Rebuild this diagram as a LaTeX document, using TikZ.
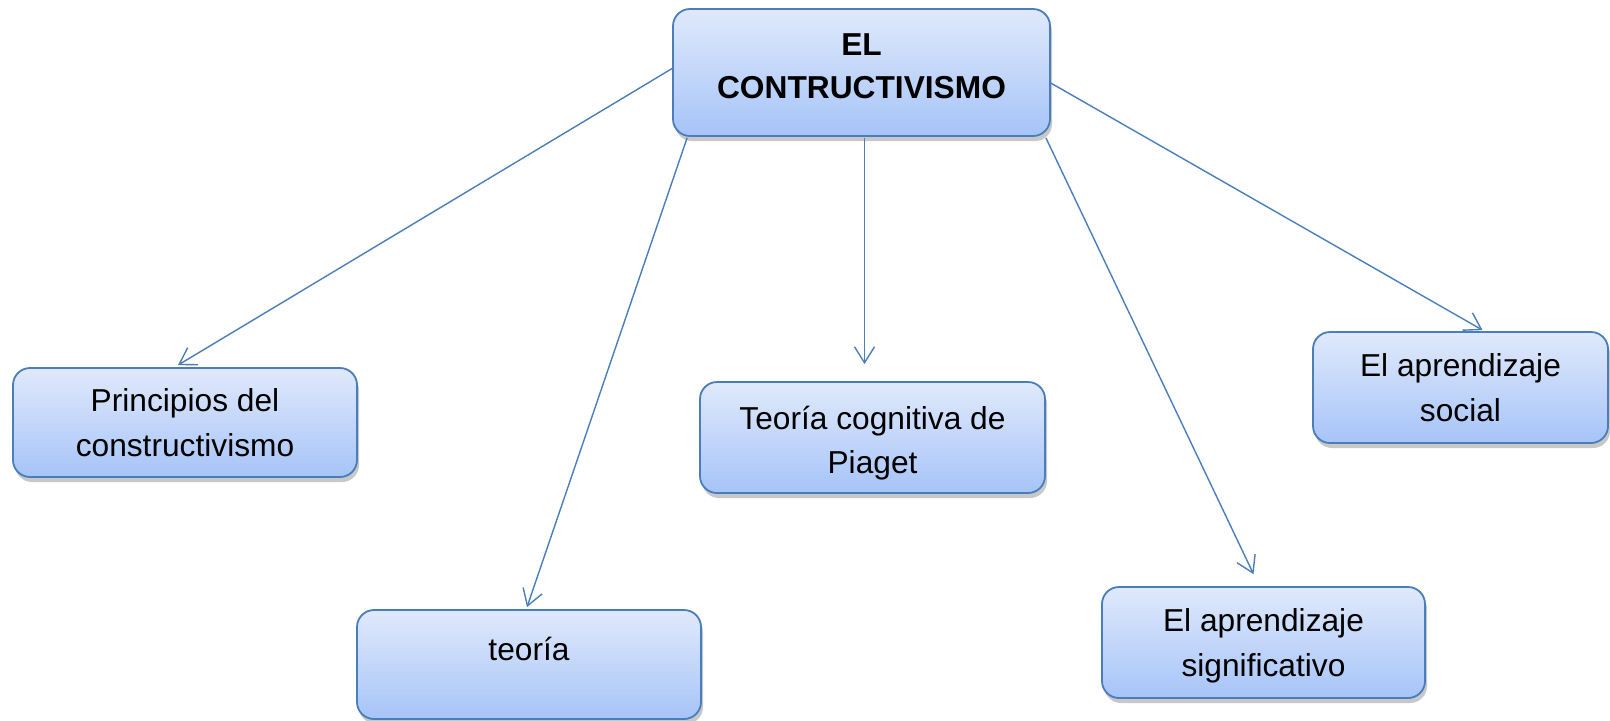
\documentclass[tikz,border=0pt]{standalone}
\usepackage{fontspec}
\setmainfont{Liberation Sans}
\usetikzlibrary{arrows.meta,shadows,calc}
\definecolor{edgeblue}{HTML}{4A7EBB}
\definecolor{filltop}{HTML}{E0E9FB}
\definecolor{fillbot}{HTML}{A6C4F8}
\newcommand\shiftt[2]{\raisebox{#1}[\height][\depth]{\begin{tabular}{@{}c@{}}#2\end{tabular}}}
\tikzset{
  conbox/.style={draw=edgeblue, line width=0.9pt, rounded corners=8.5pt,
    top color=filltop, bottom color=fillbot, inner sep=0pt, align=center,
    font=\fontsize{15.85}{22.3}\selectfont,
    drop shadow={shadow xshift=1pt, shadow yshift=-2.5pt, opacity=0.3, fill=black!70}},
  conarrow/.style={draw=edgeblue, line width=0.7pt,
    -{Straight Barb[length=8pt, width=10pt, line width=0.7pt]}}
}
\begin{document}
\begin{tikzpicture}[x=0.5pt, y=-0.5pt]
\useasboundingbox (0,0) rectangle (1610,720);
\fill[white] (0,0) rectangle (1610,720);
\node[conbox, minimum width=188.5pt, minimum height=63.5pt, font=\fontsize{15.85}{21.5}\selectfont\bfseries] (top) at (861.5,72.5)
  {\shiftt{2.1pt}{EL\\CONTRUCTIVISMO}};
\node[conbox, minimum width=172pt, minimum height=54.5pt] (prin) at (185,422.5) {Principios del\\constructivismo};
\node[conbox, minimum width=172pt, minimum height=54.5pt] (teo) at (529,664.5) {\shiftt{6.6pt}{teoría}};
\node[conbox, minimum width=172.5pt, minimum height=55.5pt] (pia) at (872.5,437.5) {\shiftt{-2.5pt}{Teoría cognitiva de\\Piaget}};
\node[conbox, minimum width=161.5pt, minimum height=55.5pt] (sig) at (1263.5,642.5) {\shiftt{-1.2pt}{El aprendizaje\\significativo}};
\node[conbox, minimum width=147.5pt, minimum height=55.5pt] (soc) at (1460.5,387.5) {El aprendizaje\\social};

\coordinate (s1) at ($(top.west)+(0,-4)$);
\coordinate (e1) at ($(prin.north)+(-7,-2)$);
\coordinate (s2) at ($(top.south west)+(15,1)$);
\coordinate (e2) at ($(teo.north)+(-2,-2)$);
\coordinate (s3) at ($(top.south)+(3,1)$);
\coordinate (e3) at ($(pia.north)+(-8,-17)$);
\coordinate (s4) at ($(top.south east)+(-5,1)$);
\coordinate (e4) at ($(sig.north)+(-10,-12)$);
\coordinate (s5) at ($(top.east)+(-1,10)$);
\coordinate (e5) at ($(soc.north)+(22,-1)$);

\draw[conarrow] (s1) -- (e1);
\draw[conarrow] (s2) -- (e2);
\draw[conarrow] (s3) -- (e3);
\draw[conarrow] (s4) -- (e4);
\draw[conarrow] (s5) -- (e5);
\end{tikzpicture}
\end{document}
